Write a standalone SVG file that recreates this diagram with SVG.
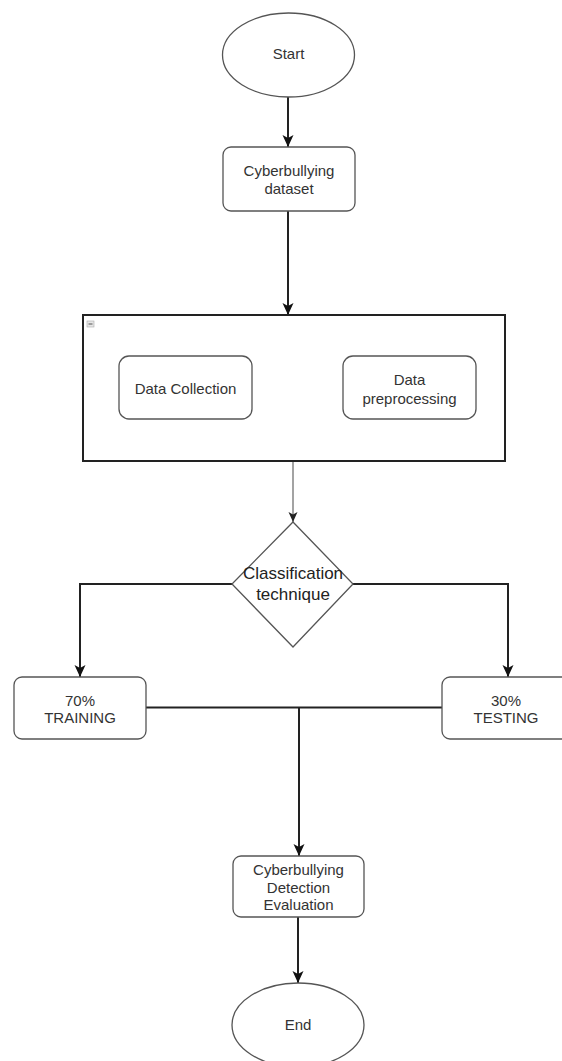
<svg xmlns="http://www.w3.org/2000/svg" width="562" height="1061" viewBox="0 0 562 1061">
<defs>
<style>
.node{fill:#fff;stroke:#555;stroke-width:1.3}
.t{font-family:"Liberation Sans",Arial,sans-serif;font-size:15px;fill:#333;text-anchor:middle;dominant-baseline:central}
.big{font-size:17px;fill:#222}
.c{fill:none;stroke:#222;stroke-width:2}
.thin{fill:none;stroke:#666;stroke-width:1.2}
</style>
<marker id="ah" markerUnits="userSpaceOnUse" markerWidth="12" markerHeight="12" viewBox="0 0 12 12" refX="12" refY="6" orient="auto">
<path d="M0,0.5 L12,6 L0,11.5 L3,6 z" fill="#111"/>
</marker>
<marker id="ahs" markerUnits="userSpaceOnUse" markerWidth="10" markerHeight="10" viewBox="0 0 10 10" refX="10" refY="5" orient="auto">
<path d="M0,0.5 L10,5 L0,9.5 L2.5,5 z" fill="#222"/>
</marker>
</defs>
<rect width="562" height="1061" fill="#fff"/>
<g id="connectors">
<path class="c" d="M288 97 L288 147" marker-end="url(#ah)"/>
<path class="c" d="M288 211 L288 315" marker-end="url(#ah)"/>
<path class="thin" d="M293 461 L293 522" marker-end="url(#ahs)"/>
<path class="c" d="M232 584 L80 584 L80 677" marker-end="url(#ah)"/>
<path class="c" d="M353 584 L508 584 L508 677" marker-end="url(#ah)"/>
<path class="c" d="M146 707.5 L442 707.5"/>
<path class="c" d="M299 708 L299 856" marker-end="url(#ah)"/>
<path class="c" d="M298 917 L298 983" marker-end="url(#ah)"/>
</g>
<g id="start">
<ellipse class="node" cx="288.5" cy="55" rx="66" ry="42"/>
<text class="t" x="288.5" y="53">Start</text>
</g>
<g id="dataset">
<rect class="node" x="223" y="147" width="132" height="64" rx="8"/>
<text class="t" x="289" y="170">Cyberbullying</text>
<text class="t" x="289" y="188">dataset</text>
</g>
<g id="container">
<rect x="83" y="315" width="422" height="146" fill="#fff" stroke="#222" stroke-width="2"/>
<rect x="87" y="321" width="7" height="6" fill="#e6e6e6" stroke="#aaa" stroke-width="0.6"/>
<line x1="88.5" y1="324" x2="92.5" y2="324" stroke="#555" stroke-width="1"/>
</g>
<g id="collection">
<rect class="node" x="119" y="356" width="133" height="63" rx="10"/>
<text class="t" x="185.5" y="388">Data Collection</text>
</g>
<g id="preprocessing">
<rect class="node" x="343" y="356" width="133" height="63" rx="10"/>
<text class="t" x="409.5" y="379">Data</text>
<text class="t" x="409.5" y="398">preprocessing</text>
</g>
<g id="classification">
<polygon class="node" points="293,522 353,584 293,647 232,584"/>
<text class="t big" x="293" y="573">Classification</text>
<text class="t big" x="293" y="594">technique</text>
</g>
<g id="training">
<rect class="node" x="14" y="677" width="132" height="62" rx="8"/>
<text class="t" x="80" y="700">70%</text>
<text class="t" x="80" y="717">TRAINING</text>
</g>
<g id="testing">
<rect class="node" x="442" y="677" width="132" height="62" rx="8"/>
<text class="t" x="506" y="700">30%</text>
<text class="t" x="506" y="717">TESTING</text>
</g>
<g id="evaluation">
<rect class="node" x="233" y="856" width="131" height="61" rx="8"/>
<text class="t" x="298.5" y="869">Cyberbullying</text>
<text class="t" x="298.5" y="887">Detection</text>
<text class="t" x="298.5" y="904">Evaluation</text>
</g>
<g id="end">
<ellipse class="node" cx="298" cy="1025" rx="66" ry="42"/>
<text class="t" x="298" y="1024">End</text>
</g>
</svg>
